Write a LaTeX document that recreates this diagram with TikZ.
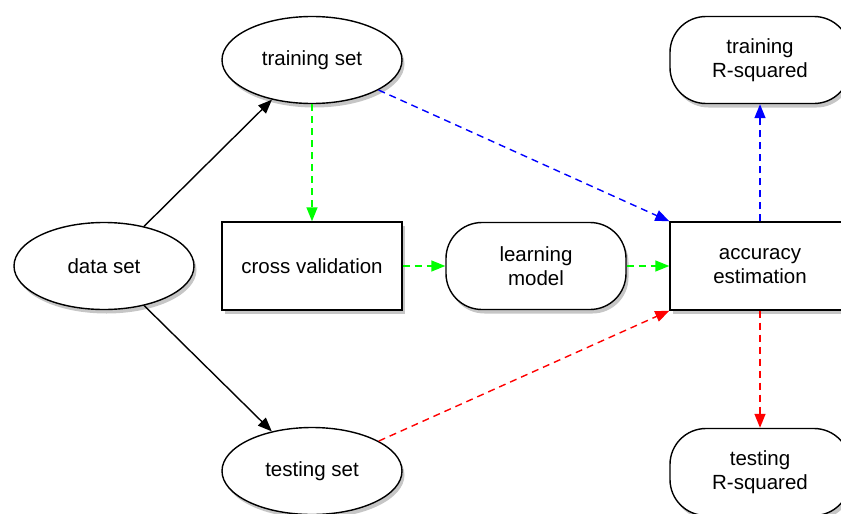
\documentclass[tikz,border=0pt]{standalone}
\usepackage{fontspec}
\setmainfont{Liberation Sans}
\usetikzlibrary{shapes.geometric,shadows,arrows.meta}
\begin{document}
\begin{tikzpicture}[x=1pt,y=-1pt,
  base/.style={draw=black,line width=1.4pt,fill=white,font=\fontsize{20.5}{24}\selectfont,align=center,inner sep=0pt,
    drop shadow={opacity=0.45,shadow xshift=2.5pt,shadow yshift=-4pt}},
  ell/.style={base,ellipse,minimum width=180pt,minimum height=87pt},
  boxnode/.style={base,rectangle,minimum width=180pt,minimum height=88pt},
  roundnode/.style={base,rectangle,rounded corners=36pt,minimum width=180pt,minimum height=87pt},
  conn/.style={line width=1.4pt,-{Triangle[length=14pt,width=11pt]}},
  dconn/.style={conn,dash pattern=on 7pt off 5pt},
]
\useasboundingbox (0,0) rectangle (841,514);
\node[ell] (ds) at (104,266) {data set};
\node[ell] (tr) at (312,60) {training set};
\node[ell] (te) at (312,471) {testing set};
\node[boxnode] (cv) at (312,266) {cross validation};
\node[roundnode] (lm) at (536,266) {learning\\model};
\node[boxnode] (acc) at (760,266) {accuracy\\estimation};
\node[roundnode] (trr) at (760,60) {training\\R-squared};
\node[roundnode] (ter) at (760,472) {testing\\R-squared};

\draw[conn] (ds) -- (tr);
\draw[conn] (ds) -- (te);
\draw[dconn,green] (tr) -- (cv);
\draw[dconn,green] (cv) -- (lm);
\draw[dconn,green] (lm) -- (acc);
\draw[dconn,blue] (tr) -- (acc.north west);
\draw[dconn,red] (te) -- (acc.south west);
\draw[dconn,blue] (acc) -- (trr);
\draw[dconn,red] (acc) -- (ter);
\end{tikzpicture}
\end{document}
